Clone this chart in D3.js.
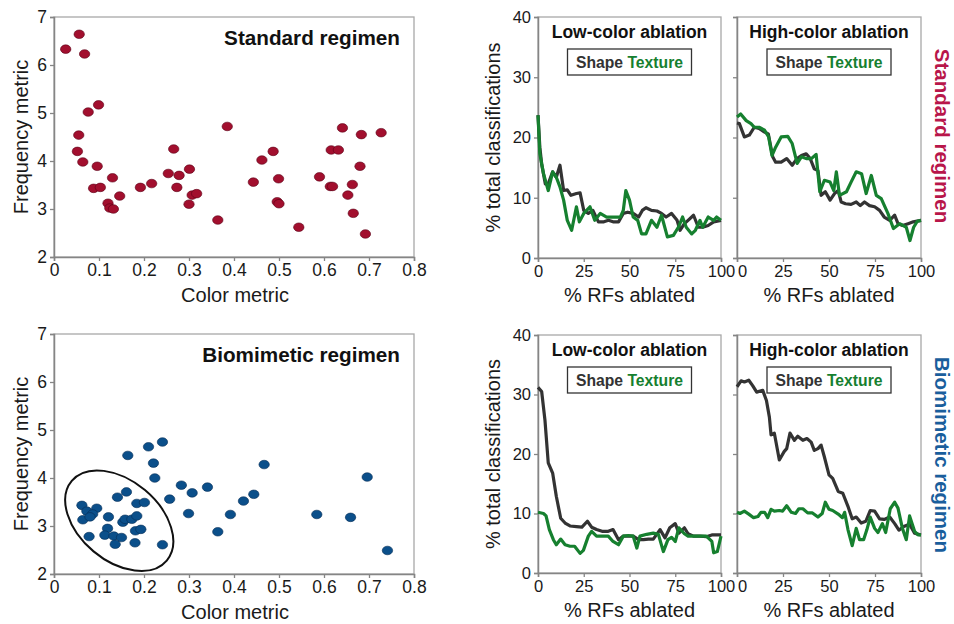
<!DOCTYPE html>
<html>
<head>
<meta charset="utf-8">
<script src="https://cdn.jsdelivr.net/npm/d3@7"></script>
<style>
body { margin: 0; background: #fff; }
svg, svg text { font-family: Arial, "Liberation Sans", sans-serif; }
</style>
</head>
<body>
<svg id="chart" width="954" height="624"></svg>
<script>
// scatter data: color metric / frequency metric
const stdColorMetric = [0.026,0.056,0.068,0.076,0.099,0.055,0.052,0.064,0.096,0.088,0.103,0.13,0.12,0.124,0.132,0.146,0.192,0.217,0.254,0.266,0.278,0.273,0.301,0.30,0.307,0.317,0.364,0.385,0.443,0.462,0.487,0.499,0.496,0.50,0.544,0.590,0.616,0.632,0.614,0.619,0.641,0.653,0.663,0.665,0.680,0.683,0.692,0.727];
const stdFreqMetric  = [6.33,6.64,6.23,5.02,5.17,4.54,4.20,3.98,3.89,3.43,3.45,3.65,3.12,3.02,3.00,3.27,3.45,3.53,3.74,4.25,3.70,3.45,3.83,3.10,3.29,3.32,2.77,4.72,3.56,4.02,4.20,3.63,3.15,3.11,2.62,3.67,4.23,4.23,3.47,3.47,4.69,3.29,3.51,2.91,3.89,4.55,2.48,4.59];

const bioColorMetric = [0.241,0.21,0.164,0.221,0.224,0.467,0.696,0.283,0.341,0.307,0.257,0.444,0.421,0.299,0.392,0.584,0.659,0.364,0.741,0.241,0.062,0.073,0.095,0.086,0.064,0.08,0.078,0.121,0.119,0.113,0.141,0.161,0.133,0.136,0.15,0.153,0.158,0.173,0.184,0.184,0.201,0.181,0.193,0.18];
const bioFreqMetric  = [4.75,4.65,4.47,4.31,4.00,4.28,4.02,3.85,3.81,3.69,3.56,3.66,3.52,3.26,3.24,3.24,3.18,2.88,2.49,2.61,3.43,3.31,3.37,3.25,3.13,3.19,2.78,3.19,2.95,2.81,3.60,3.71,2.79,2.62,2.76,3.08,3.14,3.14,3.21,3.47,3.49,2.90,2.93,2.65];

// cluster ellipse around the low-color group (data units for the centre)
const bioCluster = { color: 0.145, freq: 3.11, rx: 62, ry: 40, angle: 40 };

// ablation curves: [% RFs ablated, % total classifications]
const stdLowShape = [[0,23.7],[1,18.4],[2,15.6],[4,12.3],[5.6,12.3],[8,14.3],[10,13.4],[12,15.4],[14,11.2],[16,11.3],[18,10.4],[21,10.7],[23,10.8],[25,7.9],[27.5,7.4],[30,7.9],[33,6.0],[36,6.0],[38.5,6.25],[41,6.0],[44,6.0],[46.6,7.4],[49,7.6],[52,7.4],[55,6.8],[57,7.9],[59,8.35],[62,7.9],[65,7.8],[67.5,7.4],[70,6.8],[73,7.4],[76,6.25],[77.6,4.6],[80,5.7],[82,6.25],[85,7.1],[87.6,5.1],[90,5.1],[93,5.4],[96,6.0],[100,6.25]];
const stdLowTexture = [[0,23.7],[1,17.3],[3,14],[5.6,11.2],[8,14.3],[10,13.4],[12,11.8],[14,9.6],[16,6.25],[18.4,4.6],[21,8.5],[22.6,6.0],[25,7.4],[28.4,8.5],[31,6.25],[34,7.4],[37.5,6.8],[41,6.8],[45,6.8],[46.6,7.9],[48,11.2],[50,9.6],[52,6.8],[54.5,6.25],[56.6,4.0],[59,4.0],[62,6.25],[65,5.1],[67.5,7.1],[70.7,3.5],[74,3.75],[76.7,5.1],[79,6.8],[81,5.1],[84,4.0],[86,4.6],[88.5,6.25],[90,5.1],[93,6.8],[96,6.25],[97.6,6.8],[100,6.25]];
const stdHighShape = [[0,22.4],[1.3,22.3],[4,20.1],[6.7,20.4],[9.4,21.7],[12,21.5],[15,20.9],[17,20.6],[19.4,16.8],[21,15.9],[24,15.9],[27,16.5],[30,15.4],[32.6,16.5],[35,17.0],[37.6,17.3],[39.8,16.5],[42,14.8],[44,14.5],[45.7,10.4],[48,11.0],[50.6,9.6],[53,10.7],[55,11.2],[56.6,9.3],[59,9.0],[62,8.9],[64.8,9.3],[67,8.7],[69.3,9.3],[72,8.7],[74.8,8.5],[77.5,7.9],[80,6.8],[83,6.25],[85.7,7.1],[87.5,5.7],[90,5.4],[93,5.7],[95.8,6.0],[100,6.25]];
const stdHighTexture = [[0,23.4],[2,23.9],[5,22.8],[7.6,22.3],[9.4,21.7],[12,21.7],[15,21.2],[17.2,20.1],[19,17.0],[21,18.4],[24,20.1],[27.6,20.2],[30,19.0],[32.7,15.7],[35,16.8],[37.6,16.5],[40.4,16.5],[43,17.2],[45,11.0],[47.5,12.9],[50.6,12.6],[52.6,11.2],[54,14.3],[55.7,10.4],[59.5,11.0],[62,12.6],[64.8,14.3],[67.7,14.0],[70.2,10.7],[73,13.7],[75.7,10.4],[78.4,9.85],[82,7.4],[85,4.9],[88.4,5.7],[92,5.1],[94,2.9],[96,5.1],[98,6.1],[100,6.25]];
const bioLowShape = [[0,31.2],[2,30.5],[3.8,25.7],[5.6,18.5],[8,16.8],[10,12.9],[12.4,9.2],[14.8,8.4],[17.5,7.9],[21,7.8],[24,7.7],[27,8.7],[29.3,7.7],[32,7.3],[35,7.0],[38.4,7.0],[41,7.3],[44,5.6],[46.6,6.2],[49.4,6.2],[52,6.2],[55,5.6],[57.6,5.6],[60.3,5.7],[63,5.7],[66.7,7.3],[69.4,5.9],[72,7.6],[75,8.3],[77,6.7],[80,7.6],[82,6.6],[85,6.2],[88.5,6.2],[92,6.1],[95,6.4],[97.6,6.4],[100,6.4]];
const bioLowTexture = [[0,10.2],[3,10.0],[4.4,9.6],[6.2,7.3],[8.4,5.6],[10,4.75],[12.4,5.7],[14.8,4.75],[17.5,4.5],[20,4.5],[23,3.3],[24.8,3.8],[27.5,6.2],[29.3,7.0],[32,6.2],[35,6.2],[38.4,6.2],[41,5.3],[44,4.75],[46.6,6.2],[49.4,6.3],[52,6.2],[54,4.2],[55.7,6.2],[59.4,6.5],[63,6.7],[65.8,6.5],[68.5,3.6],[71,5.6],[73,6.0],[75,5.3],[77,7.6],[80,6.6],[82,6.2],[85,6.2],[88.5,6.2],[92,6.2],[95,5.3],[96,3.4],[98,3.6],[100,6.2]];
const bioHighShape = [[0,31.3],[2.2,32.3],[4,32.1],[6.4,32.4],[8.5,31.5],[10.7,30.4],[14,30.7],[16,29.0],[17.6,26.2],[18.5,23.2],[20.3,23.5],[23,19.0],[25.6,20.4],[27,20.9],[28.8,23.5],[31.2,22.3],[33,23.0],[35.8,22.3],[38,22.6],[40.3,22.0],[42,20.6],[44,20.9],[45.7,21.5],[47.5,19.5],[50,16.5],[52,15.9],[55,13.7],[57.5,13.4],[60.3,11.2],[62.6,9.1],[64.8,9.4],[67.5,8.4],[70,8.7],[72.4,10.5],[74.8,10.4],[77.5,9.1],[80,9.0],[83,9.4],[85.7,8.3],[88,7.2],[90.6,7.8],[93.8,8.2],[96.5,6.7],[100,6.4]];
const bioHighTexture = [[0,10.2],[1.6,10.0],[4,10.4],[6.4,9.9],[9,9.3],[11.4,9.5],[13,10.2],[15,10.2],[16.7,9.3],[18.5,10.7],[20.3,10.4],[23,10.5],[24.8,10.4],[27,11.3],[29.5,10.2],[31.8,10.0],[33.6,10.8],[35.8,10.8],[38.4,10.1],[41,10.1],[44,9.4],[46.3,10.0],[48,11.9],[50,10.7],[52,10.5],[55,9.9],[57.3,9.3],[58.5,10.2],[60.3,7.3],[62.6,4.6],[64.8,7.5],[66.6,5.6],[68.8,5.6],[70.6,7.3],[72.4,9.4],[74.8,7.5],[76.6,6.8],[79,8.3],[80.8,6.8],[83.3,10.8],[85.7,11.9],[87.5,10.9],[89.9,7.5],[92,5.6],[93.8,9.6],[96.5,7.0],[98.4,6.4],[100,6.4]];

// ticks
const scatterXTicks = [0, 0.1, 0.2, 0.3, 0.4, 0.5, 0.6, 0.7, 0.8];
const scatterYTicks = [2, 3, 4, 5, 6, 7];
const lineXTicks = [0, 25, 50, 75, 100];
const lineYTicks = [0, 10, 20, 30, 40];

const axisColor = '#858585';
const frameColor = '#a8a8a8';
const shapeColor = '#333333';
const textureColor = '#16802f';
const fontStack = 'Arial, "Liberation Sans", sans-serif';

const svg = d3.select('#chart');

function styleAxis(sel, fontSize) {
    sel.attr('font-family', fontStack);
    sel.select('.domain').attr('stroke', axisColor).attr('stroke-width', 1.5);
    sel.selectAll('.tick line').attr('stroke', axisColor).attr('stroke-width', 1.3);
    sel.selectAll('.tick text').attr('fill', '#1a1a1a').style('font-size', fontSize + 'px');
}

function drawScatter(top, xs, ys, fill, stroke, title, cluster) {
    const height = 240;
    const xScale = d3.scaleLinear().domain([0, 0.8]).range([54, 414]);
    const yScale = d3.scaleLinear().domain([2, 7]).range([top + height, top]);
    const g = svg.append('g');

    g.append('rect')
        .attr('x', 54).attr('y', top)
        .attr('width', 360).attr('height', height)
        .attr('fill', 'none').attr('stroke', frameColor).attr('stroke-width', 1.3);

    g.append('g')
        .attr('transform', `translate(0, ${top + height})`)
        .call(d3.axisBottom(xScale).tickValues(scatterXTicks).tickSize(4).tickPadding(3).tickFormat(d => String(d)))
        .call(s => styleAxis(s, 17.5));

    g.append('g')
        .attr('transform', 'translate(54, 0)')
        .call(d3.axisLeft(yScale).tickValues(scatterYTicks).tickSize(4).tickPadding(3).tickFormat(d => String(d)))
        .call(s => styleAxis(s, 17.5));

    g.append('g')
        .selectAll('ellipse')
        .data(xs.map((d, i) => ({ c: d, f: ys[i] })))
        .join('ellipse')
        .attr('cx', d => xScale(d.c))
        .attr('cy', d => yScale(d.f))
        .attr('rx', 5.2).attr('ry', 4.3)
        .attr('fill', fill)
        .attr('stroke', stroke).attr('stroke-width', 0.6);

    if (cluster) {
        g.append('ellipse')
            .attr('transform', `translate(${xScale(cluster.color)}, ${yScale(cluster.freq)}) rotate(${cluster.angle})`)
            .attr('rx', cluster.rx).attr('ry', cluster.ry)
            .attr('fill', 'none').attr('stroke', '#111').attr('stroke-width', 2);
    }

    g.append('text')
        .attr('x', 400).attr('y', top + 28)
        .attr('text-anchor', 'end')
        .style('font-size', '20.7px').style('font-weight', 'bold')
        .attr('fill', '#111')
        .text(title);

    g.append('text')
        .attr('x', 235).attr('y', top + height + 45)
        .attr('text-anchor', 'middle')
        .style('font-size', '20px').attr('fill', '#1a1a1a')
        .text('Color metric');

    g.append('text')
        .attr('transform', `translate(28, ${top + height / 2}) rotate(-90)`)
        .attr('text-anchor', 'middle')
        .style('font-size', '20px').attr('fill', '#1a1a1a')
        .text('Frequency metric');
}

function drawPanel(left, width, top, height, showY, title, shape, texture) {
    const xScale = d3.scaleLinear().domain([0, 100]).range([left, left + width]);
    const yScale = d3.scaleLinear().domain([0, 40]).range([top + height, top]);
    const g = svg.append('g');

    g.append('rect')
        .attr('x', left).attr('y', top)
        .attr('width', width).attr('height', height)
        .attr('fill', 'none').attr('stroke', frameColor).attr('stroke-width', 1.3);

    const xAxisG = g.append('g')
        .attr('transform', `translate(0, ${top + height})`)
        .call(d3.axisBottom(xScale).tickValues(lineXTicks).tickSize(4).tickPadding(3))
        .call(s => styleAxis(s, 16.5));
    // right-hand panels: the "0" label sits a little right of its tick, clear of the "100" next door
    if (!showY) {
        xAxisG.selectAll('.tick text').filter(d => d === 0).attr('dx', 5);
    }

    g.append('g')
        .attr('transform', `translate(${left}, 0)`)
        .call(d3.axisLeft(yScale).tickValues(lineYTicks).tickSize(4).tickPadding(3)
            .tickFormat(showY ? d => String(d) : () => ''))
        .call(s => styleAxis(s, 16.5));

    const line = d3.line().x(d => xScale(d[0])).y(d => yScale(d[1]));

    g.append('path').datum(shape)
        .attr('d', line).attr('fill', 'none')
        .attr('stroke', shapeColor).attr('stroke-width', 3.2)
        .attr('stroke-linejoin', 'round');

    g.append('path').datum(texture)
        .attr('d', line).attr('fill', 'none')
        .attr('stroke', textureColor).attr('stroke-width', 3.2)
        .attr('stroke-linejoin', 'round');

    const cx = left + width / 2;
    g.append('text')
        .attr('x', cx).attr('y', top + 21)
        .attr('text-anchor', 'middle')
        .style('font-size', '17.5px').style('font-weight', 'bold')
        .attr('fill', '#111')
        .text(title);

    g.append('rect')
        .attr('x', cx - 62).attr('y', top + 32)
        .attr('width', 124).attr('height', 26)
        .attr('fill', '#fff').attr('stroke', '#333').attr('stroke-width', 1.3);

    const legend = g.append('text')
        .attr('x', cx).attr('y', top + 51)
        .attr('text-anchor', 'middle')
        .style('font-size', '15.7px').style('font-weight', 'bold');
    legend.append('tspan').attr('fill', shapeColor).text('Shape ');
    legend.append('tspan').attr('fill', textureColor).text('Texture');

    g.append('text')
        .attr('x', cx).attr('y', top + height + 43.5)
        .attr('text-anchor', 'middle')
        .style('font-size', '20px').attr('fill', '#1a1a1a')
        .text('% RFs ablated');

    if (showY) {
        g.append('text')
            .attr('transform', `translate(${left - 38}, ${top + height / 2}) rotate(-90)`)
            .attr('text-anchor', 'middle')
            .style('font-size', '20px').attr('fill', '#1a1a1a')
            .text('% total classifications');
    }
}

// left column: scatter plots
drawScatter(17, stdColorMetric, stdFreqMetric, '#a20f2e', '#5a0016', 'Standard regimen', null);
drawScatter(334, bioColorMetric, bioFreqMetric, '#0b4f8a', '#062e55', 'Biomimetic regimen', bioCluster);

// right: ablation panels
drawPanel(538, 183, 17, 241, true, 'Low-color ablation', stdLowShape, stdLowTexture);
drawPanel(737, 184, 17, 241, false, 'High-color ablation', stdHighShape, stdHighTexture);
drawPanel(538, 183, 335, 238, true, 'Low-color ablation', bioLowShape, bioLowTexture);
drawPanel(737, 184, 335, 238, false, 'High-color ablation', bioHighShape, bioHighTexture);

// row labels
svg.append('text')
    .attr('transform', 'translate(935, 136) rotate(90)')
    .attr('text-anchor', 'middle')
    .style('font-size', '20.5px').style('font-weight', 'bold')
    .attr('fill', '#b8164a')
    .text('Standard regimen');

svg.append('text')
    .attr('transform', 'translate(935, 455) rotate(90)')
    .attr('text-anchor', 'middle')
    .style('font-size', '20.5px').style('font-weight', 'bold')
    .attr('fill', '#1a5e9c')
    .text('Biomimetic regimen');
</script>
</body>
</html>
